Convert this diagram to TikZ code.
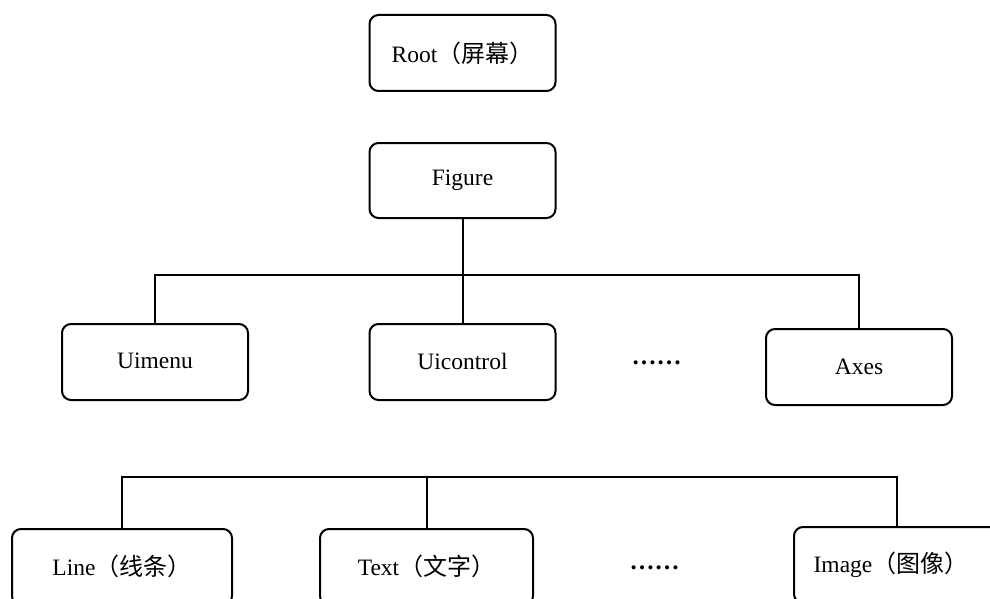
\documentclass[tikz,border=0pt]{standalone}
\usepackage{fontspec}
\setmainfont{Liberation Serif}
\newfontfamily\cjk{Noto Sans CJK SC}
\newcommand{\zh}[1]{{\cjk\fontsize{24}{28}\selectfont #1}}
\begin{document}
\begin{tikzpicture}[x=1pt,y=-1pt,
  box/.style={draw, line width=2pt, rounded corners=9pt, minimum width=186pt, minimum height=76pt, inner sep=0pt,
    font=\fontsize{23.5}{28}\selectfont},
  wire/.style={line width=2pt},
  dotsnode/.style={inner sep=0pt, font=\fontsize{25}{28}\selectfont\bfseries}]
\useasboundingbox (0,0) rectangle (990,599);
\fill[white] (0,0) rectangle (990,599);
\node[box] (root) at (462.5,53) {\raisebox{2pt}{Root\zh{（屏幕）}}};
\node[box, minimum height=75pt] (fig) at (462.5,180.5) {\raisebox{2pt}{Figure}};
\node[box] (uimenu) at (155,362) {\raisebox{2pt}{Uimenu}};
\node[box] (uicontrol) at (462.5,362) {\raisebox{2pt}{Uicontrol}};
\node[box] (axes) at (859,367) {Axes};
\node[dotsnode] (dots1) at (656.5,363) {……};
\node[box, minimum width=220pt] (line) at (122,567) {\raisebox{3pt}{Line\zh{（线条）}}};
\node[box, minimum width=213pt] (text) at (426.5,567) {\raisebox{3pt}{Text\zh{（文字）}}};
\node[box, minimum width=206pt] (image) at (897,565) {\raisebox{2pt}{\hspace*{-12pt}Image\zh{（图像）}}};
\node[dotsnode] (dots2) at (654.5,568) {……};
\coordinate (b1) at (462.5,275);
\coordinate (b2) at (426.5,477);
\draw[wire] (fig.south) -- (b1);
\draw[wire] (uicontrol.north) -- (b1);
\draw[wire] (uimenu.north) |- (b1) -| (axes.north);
\draw[wire] (text.north) -- (b2);
\draw[wire] (line.north) |- (b2) -| (image.north);
\end{tikzpicture}
\end{document}
